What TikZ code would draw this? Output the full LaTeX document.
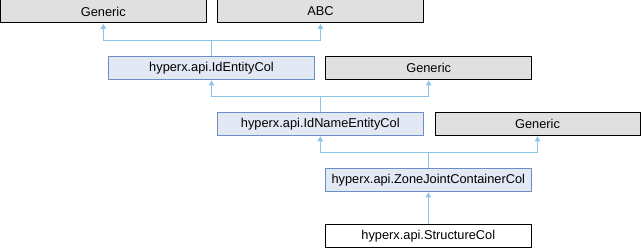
\documentclass[tikz,border=0pt]{standalone}
\usepackage{fontspec}
\setmainfont{Liberation Sans}
\usetikzlibrary{arrows.meta}
\definecolor{grayfill}{HTML}{E0E0E0}
\definecolor{bluefill}{HTML}{E2E8F4}
\definecolor{blueborder}{HTML}{6C8EC8}
\definecolor{edgecol}{HTML}{8CC4E8}
\tikzset{
  box/.style={draw, line width=1pt, minimum width=206pt, minimum height=23pt, inner sep=0pt, font=\fontsize{12.8}{14}\selectfont},
  extbox/.style={box, fill=grayfill, draw=black},
  classbox/.style={box, fill=bluefill, draw=blueborder},
  leafbox/.style={box, fill=white, draw=black},
  edge/.style={draw=edgecol, line width=1pt, -{Triangle[width=5.5pt,length=5pt]}, shorten >=0.5pt},
}
\begin{document}
\begin{tikzpicture}[x=1pt,y=-1pt]
\useasboundingbox (0,0) rectangle (641,248);
\node[extbox] (g1) at (103.3,11.5) {Generic};
\node[extbox] (abc) at (320.5,11.5) {ABC};
\node[classbox] (ide) at (211.5,68) {hyperx.api.IdEntityCol};
\node[extbox] (g2) at (428.7,68) {Generic};
\node[classbox] (idn) at (320.3,123.8) {hyperx.api.IdNameEntityCol};
\node[extbox, minimum width=205pt] (g3) at (537.5,123.8) {Generic};
\node[classbox] (zjc) at (428.3,180) {hyperx.api.ZoneJointContainerCol};
\node[leafbox] (sc) at (428.3,236) {hyperx.api.StructureCol};
\coordinate (j1) at (211.5,40.7);
\coordinate (j2) at (320.3,96.3);
\coordinate (j3) at (428.3,152.7);
\draw[edge] (ide.north) -- (j1) -| (g1.south);
\draw[edge] (ide.north) -- (j1) -| (abc.south);
\draw[edge] (idn.north) -- (j2) -| (ide.south);
\draw[edge] (idn.north) -- (j2) -| (g2.south);
\draw[edge] (zjc.north) -- (j3) -| (idn.south);
\draw[edge] (zjc.north) -- (j3) -| (g3.south);
\draw[edge] (sc.north) -- (zjc.south);
\end{tikzpicture}
\end{document}
